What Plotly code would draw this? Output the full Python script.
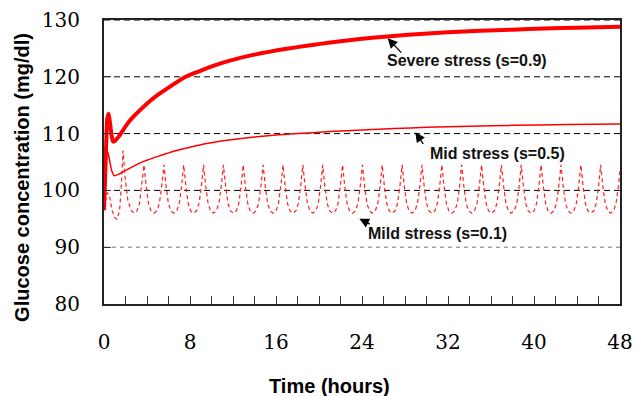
import plotly.graph_objects as go

# Glucose response over 48 hours for three stress levels
SEVERE_T = [0, 0.1, 0.2, 0.3, 0.43, 0.55, 0.7, 0.84, 1.0, 1.3, 1.7, 2.2, 2.8, 3.5, 4.2,
            5.0, 6.0, 7.6, 8.9, 9.7, 11, 12.5, 14, 15.2, 17, 19, 20.1, 22, 24, 26.4,
            29, 32, 35, 38, 41, 44, 48]
SEVERE_G = [96.5, 102, 108, 112.5, 113.5, 112, 109.8, 108.6, 108.7, 109.3, 110.4, 111.8,
            113.1, 114.4, 115.6, 116.8, 118.1, 120.0, 121.0, 121.6, 122.45, 123.25, 123.9,
            124.35, 124.95, 125.5, 125.8, 126.25, 126.7, 127.1, 127.5, 127.85, 128.1, 128.3,
            128.5, 128.65, 128.8]

MID_T = [0, 0.1, 0.2, 0.35, 0.5, 0.7, 0.93, 1.3, 1.8, 2.5, 3.3, 4.1, 5.2, 6.5, 8, 9.7,
         12, 14, 16, 18, 20, 22, 24, 27, 30, 34, 38, 43, 48]
MID_G = [96.8, 101, 105.5, 106.8, 105.5, 103.6, 102.6, 102.8, 103.3, 104.0, 104.8, 105.4,
         106.1, 106.9, 107.6, 108.3, 108.95, 109.4, 109.75, 110.0, 110.25, 110.45, 110.65,
         110.9, 111.1, 111.3, 111.45, 111.6, 111.7]

# Mild stress oscillates; one line per cycle (peak, fall, trough, rise)
MILD_T = [
    0, 0.15, 0.3, 0.5, 0.75, 1.0, 1.22, 1.45, 1.6,
    1.77, 1.95, 2.2, 2.5, 2.8, 3.07, 3.3, 3.52,
    3.72, 3.92, 4.14, 4.37, 4.64, 4.92, 5.15, 5.37,
    5.57, 5.77, 5.99, 6.22, 6.49, 6.77, 7.00, 7.22,
    7.41, 7.61, 7.83, 8.06, 8.33, 8.61, 8.84, 9.06,
    9.26, 9.46, 9.68, 9.91, 10.18, 10.46, 10.69, 10.91,
    11.11, 11.31, 11.53, 11.76, 12.03, 12.31, 12.54, 12.76,
    12.95, 13.15, 13.37, 13.60, 13.87, 14.15, 14.38, 14.60,
    14.80, 15.00, 15.22, 15.45, 15.72, 16.00, 16.23, 16.45,
    16.65, 16.85, 17.07, 17.30, 17.57, 17.85, 18.08, 18.30,
    18.50, 18.70, 18.92, 19.15, 19.42, 19.70, 19.93, 20.15,
    20.34, 20.54, 20.76, 20.99, 21.26, 21.54, 21.77, 21.99,
    22.19, 22.39, 22.61, 22.84, 23.11, 23.39, 23.62, 23.84,
    24.04, 24.24, 24.46, 24.69, 24.96, 25.24, 25.47, 25.69,
    25.88, 26.08, 26.30, 26.53, 26.80, 27.08, 27.31, 27.53,
    27.73, 27.93, 28.15, 28.38, 28.65, 28.93, 29.16, 29.38,
    29.58, 29.78, 30.00, 30.23, 30.50, 30.78, 31.01, 31.23,
    31.43, 31.63, 31.85, 32.08, 32.35, 32.63, 32.86, 33.08,
    33.27, 33.47, 33.69, 33.92, 34.19, 34.47, 34.70, 34.92,
    35.12, 35.32, 35.54, 35.77, 36.04, 36.32, 36.55, 36.77,
    36.97, 37.17, 37.39, 37.62, 37.89, 38.17, 38.40, 38.62,
    38.81, 39.01, 39.23, 39.46, 39.73, 40.01, 40.24, 40.46,
    40.66, 40.86, 41.08, 41.31, 41.58, 41.86, 42.09, 42.31,
    42.51, 42.71, 42.93, 43.16, 43.43, 43.71, 43.94, 44.16,
    44.36, 44.56, 44.78, 45.01, 45.28, 45.56, 45.79, 46.01,
    46.20, 46.40, 46.62, 46.85, 47.12, 47.40, 47.63, 47.85,
    48.0,
]
MILD_G = [
    96.8, 98.0, 99.6, 99.2, 96.5, 95.2, 94.9, 96.5, 100.5,
    107.0, 102.5, 98.5, 96.5, 96.0, 96.4, 97.7, 100.8,
    104.5, 100.8, 97.7, 96.4, 96.0, 96.4, 97.7, 100.8,
    104.5, 100.8, 97.7, 96.4, 96.0, 96.4, 97.7, 100.8,
    104.5, 100.8, 97.7, 96.4, 96.0, 96.4, 97.7, 100.8,
    104.5, 100.8, 97.7, 96.4, 96.0, 96.4, 97.7, 100.8,
    104.5, 100.8, 97.7, 96.4, 96.0, 96.4, 97.7, 100.8,
    104.5, 100.8, 97.7, 96.4, 96.0, 96.4, 97.7, 100.8,
    104.5, 100.8, 97.7, 96.4, 96.0, 96.4, 97.7, 100.8,
    104.5, 100.8, 97.7, 96.4, 96.0, 96.4, 97.7, 100.8,
    104.5, 100.8, 97.7, 96.4, 96.0, 96.4, 97.7, 100.8,
    104.5, 100.8, 97.7, 96.4, 96.0, 96.4, 97.7, 100.8,
    104.5, 100.8, 97.7, 96.4, 96.0, 96.4, 97.7, 100.8,
    104.5, 100.8, 97.7, 96.4, 96.0, 96.4, 97.7, 100.8,
    104.5, 100.8, 97.7, 96.4, 96.0, 96.4, 97.7, 100.8,
    104.5, 100.8, 97.7, 96.4, 96.0, 96.4, 97.7, 100.8,
    104.5, 100.8, 97.7, 96.4, 96.0, 96.4, 97.7, 100.8,
    104.5, 100.8, 97.7, 96.4, 96.0, 96.4, 97.7, 100.8,
    104.5, 100.8, 97.7, 96.4, 96.0, 96.4, 97.7, 100.8,
    104.5, 100.8, 97.7, 96.4, 96.0, 96.4, 97.7, 100.8,
    104.5, 100.8, 97.7, 96.4, 96.0, 96.4, 97.7, 100.8,
    104.5, 100.8, 97.7, 96.4, 96.0, 96.4, 97.7, 100.8,
    104.5, 100.8, 97.7, 96.4, 96.0, 96.4, 97.7, 100.8,
    104.5, 100.8, 97.7, 96.4, 96.0, 96.4, 97.7, 100.8,
    104.5, 100.8, 97.7, 96.4, 96.0, 96.4, 97.7, 100.8,
    104.5, 100.8, 97.7, 96.4, 96.0, 96.4, 97.7, 100.8,
    103.5,
]

GRID_LEVELS = [90, 100, 110, 120, 130]
X_TICKS = [0, 8, 16, 24, 32, 40, 48]
Y_TICKS = [80, 90, 100, 110, 120, 130]

# label text, arrow tip (t, g), arrow tail offset (px), label centre (t, g)
LABELS = [
    ("Severe stress (s=0.9)", 26.39, 126.8, 15, 16, 33.77, 122.8),
    ("Mid stress (s=0.5)", 28.96, 110.23, 9, 13, 36.56, 106.5),
    ("Mild stress (s=0.1)", 23.75, 95.0, 12, 6, 31.0, 92.4),
]

fig = go.Figure()
fig.add_trace(go.Scatter(x=MILD_T, y=MILD_G, mode="lines",
                         line=dict(color="#ff2020", width=1.2, dash="4px,3px")))
fig.add_trace(go.Scatter(x=MID_T, y=MID_G, mode="lines",
                         line=dict(color="#ff0000", width=1.5, shape="spline", smoothing=0.6)))
fig.add_trace(go.Scatter(x=SEVERE_T, y=SEVERE_G, mode="lines",
                         line=dict(color="#ff0000", width=4, shape="spline", smoothing=0.6)))

for g in GRID_LEVELS:
    light = g == 90
    fig.add_shape(type="line", xref="paper", yref="y", x0=0, x1=1, y0=g, y1=g,
                  line=dict(color="#777777" if light else "#000000", width=1,
                            dash="4px,4px" if light else "6px,4px"),
                  layer="below")

for text, tx, ty, dx, dy, lx, ly in LABELS:
    fig.add_annotation(x=tx, y=ty, ax=dx, ay=dy, text="", showarrow=True,
                       arrowhead=2, arrowsize=1.5, arrowwidth=1.3, arrowcolor="#000000")
    fig.add_annotation(x=lx, y=ly, text=f"<b>{text}</b>", showarrow=False,
                       font=dict(family="Liberation Sans, Arial", size=16, color="#111111"))

title_font = dict(family="Liberation Sans, Arial", size=20, color="#000000")

# axis titles
fig.add_annotation(xref="paper", yref="paper", x=0.437, y=0, yshift=-82,
                   xanchor="center", yanchor="middle", showarrow=False,
                   text="<b>Time (hours)</b>", font=title_font)
fig.add_annotation(xref="paper", yref="paper", x=0, y=0.444, xshift=-82,
                   xanchor="center", yanchor="middle", showarrow=False, textangle=-90,
                   text="<b>Glucose concentration (mg/dl)</b>", font=title_font)

tick_font = dict(family="DejaVu Serif", size=20, color="#000000")

fig.update_layout(
    width=636, height=396,
    margin=dict(l=104, r=16, t=20, b=92),
    paper_bgcolor="white", plot_bgcolor="white",
    showlegend=False,
    xaxis=dict(range=[0, 48], tickvals=X_TICKS, ticks="inside", ticklen=8,
               tickcolor="#333333", tickwidth=1.2,
               minor=dict(dtick=2, ticks="inside", ticklen=8, tickcolor="#333333", tickwidth=1.2),
               showgrid=False, zeroline=False, automargin=False,
               showline=True, linecolor="#222222", linewidth=2, mirror=True,
               tickfont=tick_font, ticklabelstandoff=19),
    yaxis=dict(range=[80, 130], tickvals=Y_TICKS, ticks="inside", ticklen=7,
               tickcolor="#333333", tickwidth=1.2,
               showgrid=False, zeroline=False, automargin=False,
               showline=True, linecolor="#222222", linewidth=2, mirror=True,
               tickfont=tick_font, ticklabelstandoff=18),
)

fig.write_html("out.html")
